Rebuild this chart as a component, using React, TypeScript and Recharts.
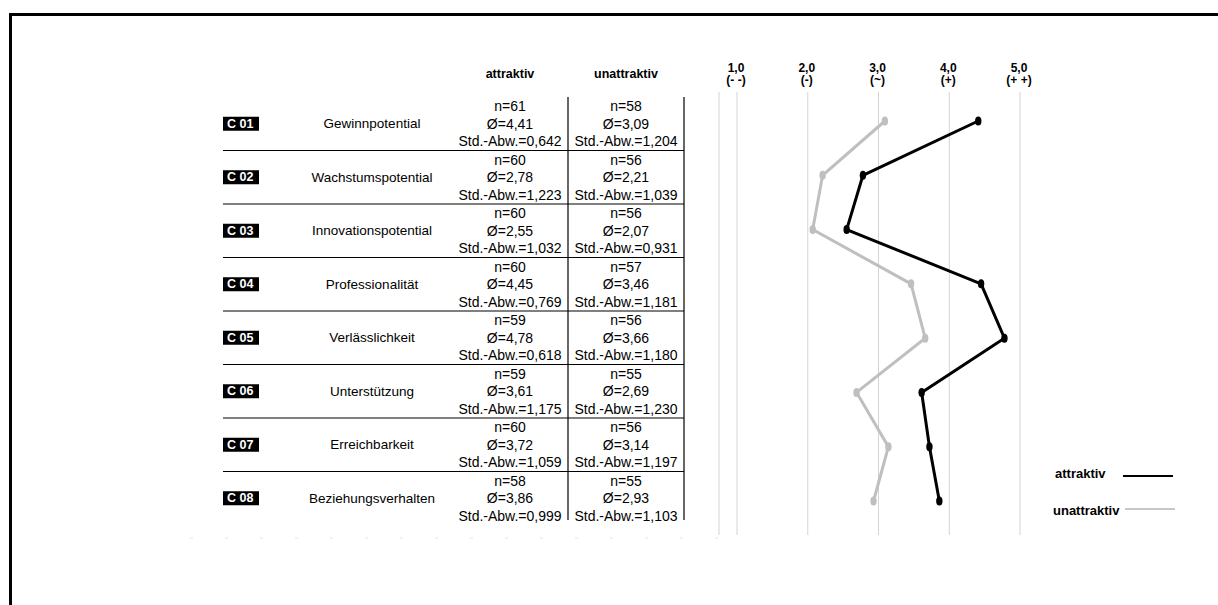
import { LineChart, Line, XAxis, YAxis, CartesianGrid } from 'recharts'

const codes = ['C 01', 'C 02', 'C 03', 'C 04', 'C 05', 'C 06', 'C 07', 'C 08']
const criteria = [
  'Gewinnpotential',
  'Wachstumspotential',
  'Innovationspotential',
  'Professionalität',
  'Verlässlichkeit',
  'Unterstützung',
  'Erreichbarkeit',
  'Beziehungsverhalten',
]
const nAttr = [61, 60, 60, 60, 59, 59, 60, 58]
const meanAttr = [4.41, 2.78, 2.55, 4.45, 4.78, 3.61, 3.72, 3.86]
const sdAttr = [0.642, 1.223, 1.032, 0.769, 0.618, 1.175, 1.059, 0.999]
const nUnattr = [58, 56, 56, 57, 56, 55, 56, 55]
const meanUnattr = [3.09, 2.21, 2.07, 3.46, 3.66, 2.69, 3.14, 2.93]
const sdUnattr = [1.204, 1.039, 0.931, 1.181, 1.18, 1.23, 1.197, 1.103]

const scaleTicks = [1, 2, 3, 4, 5]
const scaleLabels = ['(- -)', '(-)', '(~)', '(+)', '(+ +)']

const FONT = '"Liberation Sans", Arial, sans-serif'
const GREY = '#bfbfbf'

// table grid (left part), rows are a bit tighter than the plotted points
const TABLE_TOP = 97
const ROW_H = 53.5

const rows = codes.map((code, i) => ({
  code,
  attraktiv: meanAttr[i],
  unattraktiv: meanUnattr[i],
}))

const de = (v: number, digits: number) => v.toFixed(digits).replace('.', ',')

function ScaleTick(props: any) {
  const { x, payload } = props
  const i = scaleTicks.indexOf(payload.value)
  return (
    <g fontFamily={FONT} fontWeight="bold" fontSize={12} fill="#000">
      <text x={x - 1} y={68} textAnchor="middle" dominantBaseline="central">
        {de(payload.value, 1)}
      </text>
      <text x={x - 1} y={80} textAnchor="middle" dominantBaseline="central">
        {scaleLabels[i]}
      </text>
    </g>
  )
}

function RowTick(props: any) {
  const { payload } = props
  const i = codes.indexOf(payload.value)
  const last = i === codes.length - 1
  const c = TABLE_TOP + ROW_H * (i + 0.5)
  return (
    <g fontFamily={FONT} fill="#000">
      {i === 0 && (
        <g>
          <g fontWeight="bold" fontSize={12.5}>
            <text x={510} y={74} textAnchor="middle" dominantBaseline="central">attraktiv</text>
            <text x={626} y={74} textAnchor="middle" dominantBaseline="central">unattraktiv</text>
          </g>
          <line x1={568} x2={568} y1={TABLE_TOP} y2={520} stroke="#000" strokeWidth={1.2} />
          <line x1={684} x2={684} y1={TABLE_TOP} y2={520} stroke="#000" strokeWidth={1.2} />
          <line x1={190} x2={720} y1={538} y2={538} stroke="#e4e4e4" strokeDasharray="3 32" />
        </g>
      )}
      <rect x={223} y={c - 7} width={36} height={14} fill="#000" />
      <text x={227} y={c} dominantBaseline="central" fill="#fff" fontWeight="bold" fontSize={12.5}>
        {codes[i]}
      </text>
      <text x={372} y={c} textAnchor="middle" dominantBaseline="central" fontSize={13.5}>
        {criteria[i]}
      </text>
      <g fontSize={14} textAnchor="middle">
        <text x={510} y={c - 17.5} dominantBaseline="central">n={nAttr[i]}</text>
        <text x={510} y={c} dominantBaseline="central">Ø={de(meanAttr[i], 2)}</text>
        <text x={510} y={c + 17.5} dominantBaseline="central">Std.-Abw.={de(sdAttr[i], 3)}</text>
        <text x={626} y={c - 17.5} dominantBaseline="central">n={nUnattr[i]}</text>
        <text x={626} y={c} dominantBaseline="central">Ø={de(meanUnattr[i], 2)}</text>
        <text x={626} y={c + 17.5} dominantBaseline="central">Std.-Abw.={de(sdUnattr[i], 3)}</text>
      </g>
      {!last && (
        <line x1={223} x2={684} y1={c + ROW_H / 2} y2={c + ROW_H / 2} stroke="#000" strokeWidth={1.2} />
      )}
    </g>
  )
}

const dot = (fill: string) => (props: any) => (
  <ellipse key={props.index} cx={props.cx} cy={props.cy} rx={3.2} ry={4.5} fill={fill} />
)

export default function App() {
  return (
    <div style={{ position: 'absolute', left: 0, top: 0, width: 1218, height: 605, background: '#fff' }}>
      <div
        style={{
          position: 'absolute',
          left: 9,
          top: 13,
          width: 1209,
          height: 592,
          borderTop: '3px solid #000',
          borderLeft: '3px solid #000',
          boxSizing: 'border-box',
        }}
      />
      <div style={{ position: 'absolute', left: 0, top: 0 }}>
        <LineChart
          layout="vertical"
          width={1218}
          height={605}
          data={rows}
          margin={{ top: 0, right: 198, bottom: 70, left: 0 }}
        >
          <CartesianGrid vertical horizontal={false} stroke="#d4d4d4" />
          <XAxis
            type="number"
            orientation="top"
            domain={[1, 5]}
            ticks={scaleTicks}
            height={92}
            padding={{ left: 18, right: 0 }}
            axisLine={false}
            tickLine={false}
            tick={<ScaleTick />}
          />
          <YAxis
            type="category"
            dataKey="code"
            width={719}
            padding={{ top: 29, bottom: 34 }}
            interval={0}
            axisLine={{ stroke: '#e2e2e2', strokeDasharray: '1 17' }}
            tickLine={false}
            tick={<RowTick />}
          />
          <Line
            isAnimationActive={false}
            dataKey="unattraktiv"
            stroke={GREY}
            strokeWidth={3}
            dot={dot(GREY)}
            activeDot={false}
          />
          <Line
            isAnimationActive={false}
            dataKey="attraktiv"
            stroke="#000"
            strokeWidth={3}
            dot={dot('#000')}
            activeDot={false}
          />
        </LineChart>
      </div>
      <div style={{ position: 'absolute', left: 1055, top: 466, fontFamily: FONT, fontWeight: 'bold', fontSize: 13 }}>
        attraktiv
      </div>
      <div style={{ position: 'absolute', left: 1123, top: 475, width: 50, height: 2, background: '#000' }} />
      <div style={{ position: 'absolute', left: 1053, top: 503, fontFamily: FONT, fontWeight: 'bold', fontSize: 13 }}>
        unattraktiv
      </div>
      <div style={{ position: 'absolute', left: 1125, top: 508, width: 50, height: 2, background: '#c8c8c8' }} />
    </div>
  )
}
